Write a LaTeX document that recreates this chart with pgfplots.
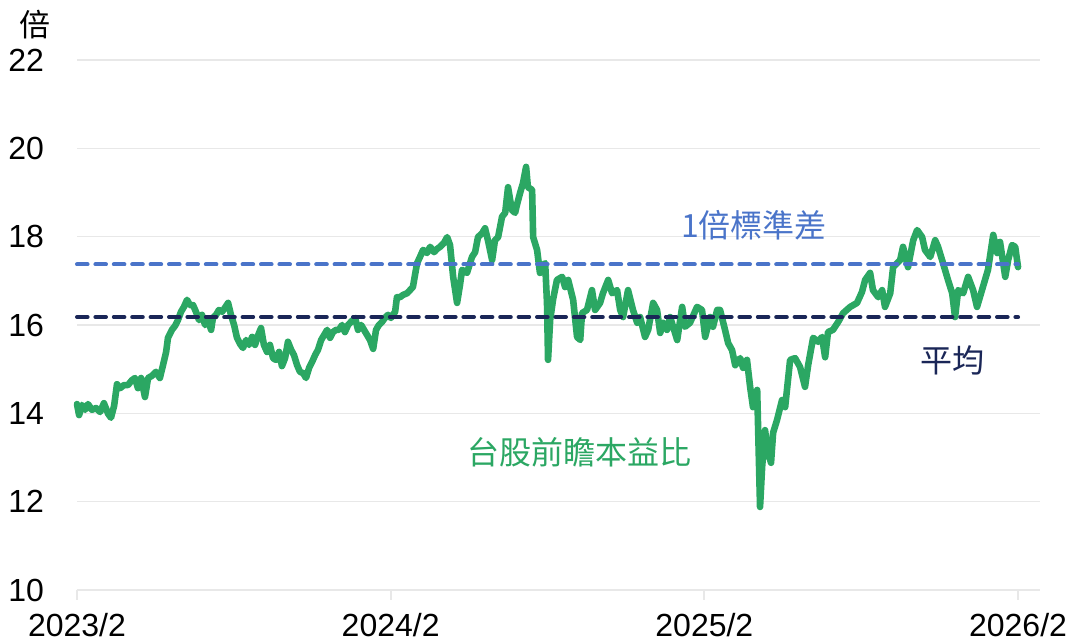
\documentclass[border=0pt]{standalone}
\usepackage{fontspec}
\setmainfont{Liberation Sans}
\newfontfamily\cjk{Noto Sans CJK TC}
\usepackage{pgfplots}
\usepackage{pgfplotstable}
\pgfplotsset{compat=1.18}
\definecolor{pegreen}{RGB}{43,167,99}
\definecolor{sdblue}{RGB}{74,116,201}
\definecolor{avgnavy}{RGB}{26,38,87}
\definecolor{gridgray}{RGB}{232,232,232}

% months since 2023/2, forward P/E
\pgfplotstableread{
t v
0 14.21
0.08 13.96
0.19 14.19
0.31 14.08
0.42 14.21
0.57 14.08
0.73 14.12
0.88 14.03
1.03 14.23
1.19 13.99
1.30 13.90
1.42 14.17
1.53 14.66
1.65 14.57
1.80 14.64
1.95 14.64
2.10 14.75
2.22 14.80
2.33 14.57
2.45 14.80
2.60 14.37
2.72 14.80
2.87 14.85
3.02 14.94
3.17 14.80
3.29 15.09
3.41 15.39
3.48 15.71
3.63 15.89
3.75 15.98
3.86 16.11
3.98 16.30
4.09 16.41
4.21 16.57
4.32 16.45
4.44 16.45
4.55 16.30
4.67 16.11
4.78 16.23
4.90 16.00
5.01 16.11
5.13 15.89
5.20 16.16
5.32 16.23
5.43 16.34
5.55 16.30
5.66 16.39
5.78 16.50
5.89 16.23
6.01 16.00
6.12 15.71
6.24 15.57
6.35 15.48
6.47 15.66
6.58 15.55
6.70 15.73
6.81 15.55
6.93 15.77
7.04 15.93
7.15 15.55
7.27 15.39
7.38 15.55
7.50 15.25
7.61 15.21
7.73 15.39
7.84 15.07
7.96 15.25
8.07 15.62
8.19 15.44
8.30 15.32
8.42 15.09
8.53 14.94
8.65 14.91
8.76 14.80
8.88 15.03
8.99 15.16
9.11 15.32
9.22 15.44
9.34 15.66
9.45 15.77
9.57 15.89
9.68 15.71
9.79 15.84
9.91 15.89
10.02 15.89
10.14 16.00
10.25 15.84
10.37 16.00
10.48 16.07
10.64 16.16
10.75 15.89
10.87 16.00
10.98 15.89
11.10 15.77
11.21 15.66
11.33 15.46
11.44 15.89
11.55 16.00
11.67 16.07
11.78 16.16
11.90 16.23
12.01 16.16
12.17 16.30
12.24 16.63
12.36 16.63
12.47 16.68
12.63 16.72
12.74 16.79
12.85 16.86
13.01 17.40
13.12 17.54
13.24 17.70
13.39 17.63
13.51 17.77
13.66 17.65
13.77 17.72
13.89 17.77
14.04 17.86
14.16 17.99
14.27 17.81
14.39 17.09
14.54 16.50
14.65 16.90
14.73 17.25
14.92 17.18
15.11 17.54
15.23 17.65
15.34 17.99
15.50 18.08
15.61 18.19
15.72 17.92
15.88 17.47
15.99 17.92
16.11 17.99
16.26 18.45
16.38 18.54
16.49 19.12
16.57 18.83
16.64 18.60
16.76 18.54
16.83 18.72
16.95 18.99
17.06 19.21
17.18 19.58
17.25 19.12
17.41 19.06
17.45 17.99
17.60 17.70
17.71 17.18
17.83 17.36
17.91 17.40
17.98 16.50
18.02 15.21
18.10 16.11
18.21 16.57
18.36 17.02
18.56 17.09
18.67 16.86
18.79 17.02
18.98 16.57
19.13 15.73
19.25 15.66
19.32 16.27
19.51 16.34
19.70 16.79
19.82 16.34
20.01 16.50
20.12 16.72
20.32 17.02
20.47 16.72
20.66 16.79
20.78 16.34
20.89 16.18
21.08 16.79
21.27 16.34
21.43 16.05
21.54 16.18
21.73 15.73
21.85 15.89
22.04 16.50
22.19 16.34
22.31 15.82
22.42 16.05
22.57 15.89
22.69 16.18
22.96 15.66
23.15 16.41
23.26 15.96
23.45 16.05
23.72 16.41
23.91 16.34
24.03 15.73
24.22 16.18
24.33 15.96
24.49 16.34
24.60 16.34
24.79 15.89
24.91 15.59
25.06 15.43
25.18 15.09
25.37 15.25
25.48 15.03
25.63 15.21
25.75 14.60
25.86 14.14
26.02 14.53
26.13 11.88
26.21 12.79
26.32 13.62
26.44 13.10
26.55 12.88
26.63 13.56
26.78 13.85
26.97 14.30
27.09 14.14
27.28 15.21
27.47 15.25
27.66 15.05
27.85 14.60
27.97 15.09
28.16 15.71
28.35 15.62
28.50 15.73
28.62 15.27
28.73 15.84
28.92 15.89
29.12 16.07
29.31 16.27
29.58 16.41
29.84 16.50
30.03 16.75
30.15 17.02
30.34 17.18
30.45 16.79
30.65 16.63
30.80 16.79
30.91 16.41
31.11 16.72
31.22 17.31
31.49 17.47
31.60 17.77
31.79 17.31
31.99 17.92
32.14 18.15
32.33 17.99
32.44 17.70
32.64 17.54
32.83 17.92
32.94 17.77
33.13 17.40
33.32 17.02
33.48 16.72
33.59 16.18
33.71 16.79
33.90 16.72
34.09 17.09
34.28 16.79
34.43 16.41
34.62 16.79
34.85 17.25
35.05 18.04
35.20 17.63
35.31 17.88
35.51 17.09
35.62 17.47
35.77 17.81
35.89 17.77
36.00 17.31
}\petable

\begin{document}
\begin{tikzpicture}
\begin{axis}[
  scale only axis, width=481.5pt, height=265pt,
  xmin=0, xmax=36.84, ymin=10, ymax=22,
  xtick={0,12,24,36}, xticklabels={2023/2,2024/2,2025/2,2026/2},
  ytick={10,12,...,22},
  ymajorgrids, grid style={line width=0.8pt, draw=gridgray},
  axis x line*=bottom, axis y line*=left,
  y axis line style={draw=none}, ytick style={draw=none},
  x axis line style={draw=gridgray, line width=1pt, -},
  xtick style={draw=gridgray, line width=1pt},
  tick align=outside, major tick length=5pt,
  /pgf/number format/assume math mode=true,
  tick label style={font=\fontsize{16}{19}\selectfont},
  yticklabel style={xshift=-8pt},
  xticklabel style={yshift=-3pt},
  clip=false,
]
\addplot[pegreen, line width=3.3pt, line join=round, line cap=round] table[x=t, y=v] {\petable};
\addplot[sdblue, line width=2pt, line cap=round, dash pattern=on 5.3pt off 3.9pt] coordinates {(0,17.37) (36,17.37)};
\addplot[avgnavy, line width=2pt, line cap=round, dash pattern=on 5.3pt off 3.9pt] coordinates {(0,16.18) (36,16.18)};
\node[sdblue, font=\cjk\fontsize{16}{19}\selectfont] at (axis cs:25.9,18.26) {1倍標準差};
\node[avgnavy, font=\cjk\fontsize{16}{19}\selectfont] at (axis cs:33.5,15.21) {平均};
\node[pegreen, font=\cjk\fontsize{16}{19}\selectfont] at (axis cs:19.24,13.12) {台股前瞻本益比};
\node[font=\cjk\fontsize{15.5}{18}\selectfont] at ([xshift=-21pt, yshift=17.5pt]rel axis cs:0,1) {倍};
\end{axis}
\pgfresetboundingbox
\path ([xshift=-38.5pt, yshift=-26pt]current axis.south west) rectangle ([xshift=14.5pt, yshift=30pt]current axis.north east);
\end{tikzpicture}
\end{document}
